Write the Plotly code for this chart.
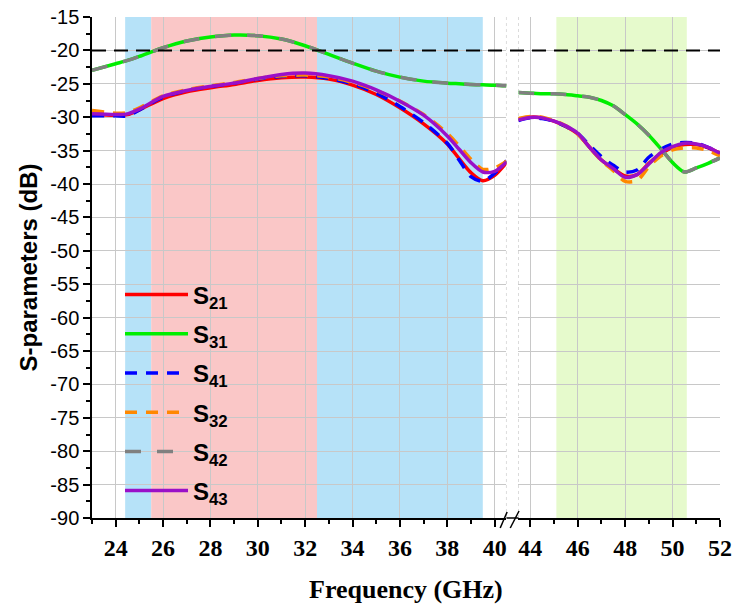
import plotly.graph_objects as go

# ---------------- data ----------------
freq_lo = [23, 24, 24.5, 25, 26, 27, 28, 29, 30, 31, 32, 33, 34, 35, 36, 37, 38, 38.5, 39, 39.5, 40, 40.5]
freq_hi = [43.5, 44, 44.5, 45, 45.5, 46, 46.5, 47, 47.5, 48, 48.5, 49, 49.5, 50, 50.5, 51, 51.5, 52]

s21_lo = [-29.6, -29.7, -29.6, -28.9, -27.2, -26.2, -25.6, -25.1, -24.5, -24.1, -24.0, -24.3, -25.2, -26.6, -28.6, -31.0, -34.0, -36.2, -38.3, -39.5, -38.7, -36.8]
s31_lo = [-23.0, -22.0, -21.5, -20.9, -19.6, -18.6, -18.0, -17.7, -17.8, -18.3, -19.3, -20.6, -21.9, -23.1, -24.0, -24.6, -24.9, -25.0, -25.1, -25.15, -25.2, -25.3]
s41_lo = [-29.8, -29.8, -29.8, -28.9, -27.0, -26.0, -25.4, -24.9, -24.3, -23.9, -23.8, -24.2, -25.0, -26.4, -28.4, -30.8, -33.9, -36.4, -38.9, -39.6, -38.4, -36.5]
s32_lo = [-29.0, -29.4, -29.3, -28.6, -26.8, -25.9, -25.3, -24.8, -24.2, -23.8, -23.7, -24.0, -24.8, -26.0, -27.6, -29.6, -32.4, -34.3, -36.3, -37.8, -37.6, -36.6]
s42_lo = [-23.0, -22.0, -21.5, -20.9, -19.6, -18.6, -18.0, -17.7, -17.8, -18.3, -19.3, -20.6, -21.9, -23.1, -24.0, -24.6, -24.9, -25.0, -25.1, -25.15, -25.2, -25.3]
s43_lo = [-29.5, -29.6, -29.5, -28.8, -26.9, -26.0, -25.4, -24.9, -24.2, -23.6, -23.4, -23.8, -24.6, -25.9, -27.6, -29.7, -32.8, -34.8, -36.8, -38.2, -38.1, -36.7]

s21_hi = [-30.3, -30.0, -30.1, -30.6, -31.4, -32.5, -34.5, -36.4, -37.7, -38.8, -38.6, -36.9, -35.5, -34.5, -34.1, -34.1, -34.6, -35.4]
s31_hi = [-26.3, -26.4, -26.5, -26.5, -26.6, -26.8, -27.0, -27.5, -28.3, -29.6, -31.0, -32.7, -34.7, -36.8, -38.2, -37.6, -36.9, -36.1]
s41_hi = [-30.5, -30.1, -30.2, -30.6, -31.4, -32.4, -34.2, -35.9, -37.2, -38.2, -37.9, -36.0, -34.8, -34.0, -33.8, -33.9, -34.5, -35.3]
s32_hi = [-30.2, -29.9, -30.0, -30.5, -31.3, -32.5, -34.5, -36.5, -38.0, -39.6, -39.5, -37.4, -35.8, -34.9, -34.6, -34.6, -35.0, -35.8]
s42_hi = [-26.3, -26.4, -26.5, -26.5, -26.6, -26.8, -27.0, -27.5, -28.3, -29.6, -31.0, -32.7, -34.7, -36.8, -38.2, -37.6, -36.9, -36.1]
s43_hi = [-30.4, -30.05, -30.1, -30.6, -31.3, -32.4, -34.5, -36.4, -37.7, -39.0, -38.6, -37.0, -35.3, -34.4, -33.9, -34.0, -34.5, -35.4]

series_names = ["S<sub>21</sub>", "S<sub>31</sub>", "S<sub>41</sub>", "S<sub>32</sub>", "S<sub>42</sub>", "S<sub>43</sub>"]
series_lo = [s21_lo, s31_lo, s41_lo, s32_lo, s42_lo, s43_lo]
series_hi = [s21_hi, s31_hi, s41_hi, s32_hi, s42_hi, s43_hi]
series_colors = ["#ff0000", "#00ee00", "#0000ff", "#ff8800", "#808080", "#9a10c8"]
series_dash = ["solid", "solid", "12px,9px", "12px,9px", "16px,16px", "solid"]

band_start = [24.4, 25.5, 32.5, 45.1]
band_end = [25.5, 32.5, 39.5, 50.6]
band_axis = ["x", "x", "x", "x2"]
band_colors = ["rgb(182,226,248)", "rgb(250,199,199)", "rgb(182,226,248)", "rgb(230,250,204)"]

ref_level = -20

x_ticks_lo = [24, 26, 28, 30, 32, 34, 36, 38, 40]
x_ticks_hi = [44, 46, 48, 50, 52]
y_ticks = [-15, -20, -25, -30, -35, -40, -45, -50, -55, -60, -65, -70, -75, -80, -85, -90]
y_ticktext = ["-15", "-20", "-25", "-30", "-35", "-40", "-45", "-50", "-55", "-60", "-65", "-70", "-75", "-80", "-85", "-90"]
x_range_lo = [23, 40.5]
x_range_hi = [43.5, 52]
y_range = [-90, -15]

# ---------------- figure ----------------
fig = go.Figure()

for name, ylo, yhi, col, dash in zip(series_names, series_lo, series_hi, series_colors, series_dash):
    fig.add_trace(go.Scatter(x=freq_lo, y=ylo, mode="lines", name=name, legendgroup=name,
                             line=dict(color=col, width=3.5, dash=dash, shape="spline", smoothing=0.8),
                             xaxis="x", yaxis="y"))
    fig.add_trace(go.Scatter(x=freq_hi, y=yhi, mode="lines", name=name, legendgroup=name, showlegend=False,
                             line=dict(color=col, width=3.5, dash=dash, shape="spline", smoothing=0.8),
                             xaxis="x2", yaxis="y"))

shapes = []
for s, e, ax, c in zip(band_start, band_end, band_axis, band_colors):
    shapes.append(dict(type="rect", xref=ax, yref="y domain", x0=s, x1=e, y0=0, y1=1,
                       fillcolor=c, line=dict(width=0), layer="below"))

d_lo = [0, 0.66]
d_hi = [0.679, 1]

# reference level line across the whole plot
shapes.append(dict(type="line", xref="paper", yref="y", x0=0, x1=1, y0=ref_level, y1=ref_level,
                   line=dict(color="black", width=2, dash="14px,8px"), layer="above"))
# dotted break edges
shapes.append(dict(type="line", xref="x", yref="paper", x0=x_range_lo[1], x1=x_range_lo[1], y0=0, y1=1,
                   line=dict(color="#bbbbbb", width=1, dash="dot"), layer="below"))
shapes.append(dict(type="line", xref="x2", yref="paper", x0=x_range_hi[0], x1=x_range_hi[0], y0=0, y1=1,
                   line=dict(color="#bbbbbb", width=1, dash="dot"), layer="below"))
# axis line across break and break marks
shapes.append(dict(type="line", xref="paper", yref="paper", x0=d_lo[1], x1=d_hi[0], y0=0, y1=0,
                   line=dict(color="black", width=1.5)))
shapes.append(dict(type="line", xref="paper", yref="paper", x0=0.650, x1=0.661, y0=-0.020, y1=0.012,
                   line=dict(color="black", width=1.5)))
shapes.append(dict(type="line", xref="paper", yref="paper", x0=0.666, x1=0.680, y0=-0.020, y1=0.014,
                   line=dict(color="black", width=1.5)))

tick_font_x = dict(family="Liberation Serif, Times New Roman, serif", size=24, color="black", weight="bold")
axis_common = dict(showline=True, linecolor="black", linewidth=1.5, ticks="outside", ticklen=7,
                   tickwidth=1.5, tickcolor="black", showgrid=True, gridcolor="#c8c8c8", gridwidth=1,
                   zeroline=False, tickfont=tick_font_x, ticklabeloverflow="allow",
                   minor=dict(dtick=1, ticks="outside", ticklen=4, tickcolor="black", showgrid=False))

fig.update_layout(
    width=743, height=609,
    margin=dict(l=92, r=23, t=17, b=91, autoexpand=False),
    paper_bgcolor="white", plot_bgcolor="white",
    shapes=shapes,
    xaxis=dict(domain=d_lo, range=x_range_lo, tickvals=x_ticks_lo, anchor="y", **axis_common),
    xaxis2=dict(domain=d_hi, range=x_range_hi, tickvals=x_ticks_hi, anchor="y", **axis_common),
    yaxis=dict(range=y_range, tickvals=y_ticks, ticktext=y_ticktext, showline=True, linecolor="black", linewidth=1.5,
               ticks="outside", ticklen=7, tickwidth=1.5, tickcolor="black", ticklabeloverflow="allow",
               showgrid=True, gridcolor="#c8c8c8", gridwidth=1, zeroline=False,
               tickfont=dict(family="Liberation Sans, Arial, sans-serif", size=20, color="black"),
               minor=dict(dtick=2.5, ticks="outside", ticklen=4, tickcolor="black", showgrid=False),
               title=dict(text="S-parameters (dB)", standoff=6,
                          font=dict(family="Liberation Sans, Arial, sans-serif", size=24, color="black", weight="bold"))),
    legend=dict(x=0.0446, y=0.49, xanchor="left", yanchor="top", bgcolor="rgba(0,0,0,0)",
                font=dict(family="Liberation Sans, Arial, sans-serif", size=24, color="black", weight="bold"),
                tracegroupgap=5, itemwidth=63),
    annotations=[dict(text="Frequency (GHz)", xref="paper", yref="paper", x=0.5, y=-0.1437,
                      xanchor="center", yanchor="middle", showarrow=False,
                      font=dict(family="Liberation Serif, Times New Roman, serif", size=26, color="black", weight="bold"))],
)

fig.write_html("out.html", config={"displayModeBar": False},
               post_script="document.body.style.margin='0';")
